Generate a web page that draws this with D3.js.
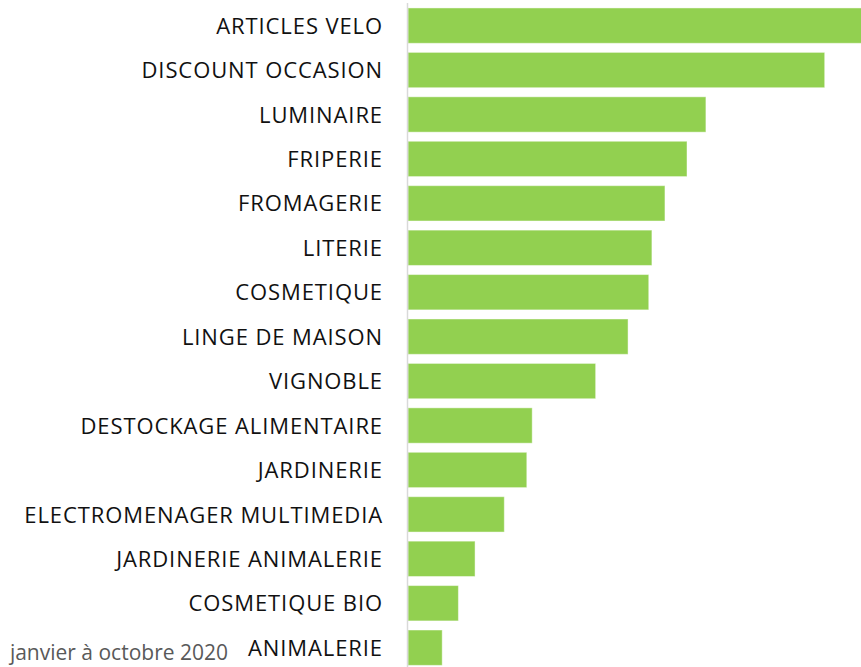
<!DOCTYPE html>
<html>
<head>
<meta charset="utf-8">
<script src="https://cdn.jsdelivr.net/npm/d3@7"></script>
<style>
  body { margin: 0; background: #fff; }
  .label { font-family: "Open Sans", sans-serif; font-size: 22px; letter-spacing: 0.9px; fill: #111; }
  .source { font-family: "Open Sans", sans-serif; font-size: 21px; fill: #595959; }
</style>
</head>
<body>
<svg class="chart"></svg>
<script>
// Catégories (de haut en bas)
var categories = [
  "ARTICLES VELO", "DISCOUNT OCCASION", "LUMINAIRE", "FRIPERIE", "FROMAGERIE",
  "LITERIE", "COSMETIQUE", "LINGE DE MAISON", "VIGNOBLE", "DESTOCKAGE ALIMENTAIRE",
  "JARDINERIE", "ELECTROMENAGER MULTIMEDIA", "JARDINERIE ANIMALERIE",
  "COSMETIQUE BIO", "ANIMALERIE"
];

// Valeurs estimées (la première barre sort du cadre)
var values = [104, 92.6, 66.2, 62, 57.1, 54.2, 53.5, 48.9, 41.7, 27.6, 26.4, 21.4, 14.9, 11.2, 7.6];

var sourceText = "janvier à octobre 2020";

var width = 861, height = 667;
var left = 408;

var svg = d3.select(".chart")
    .attr("width", width)
    .attr("height", height);

var data = categories.map(function(c, i) { return { name: c, value: values[i] }; });

// Échelle X
var x = d3.scaleLinear()
    .domain([0, 100])
    .range([left, left + 450]);

// Échelle Y
var y = d3.scaleBand()
    .domain(categories)
    .range([3.4, 669.9])
    .paddingInner(0.205)
    .paddingOuter(0.1025);

// Barres
svg.selectAll(".bar")
    .data(data)
  .enter().append("rect")
    .attr("class", "bar")
    .attr("x", x(0))
    .attr("y", function(d) { return y(d.name); })
    .attr("width", function(d) { return x(d.value) - x(0); })
    .attr("height", y.bandwidth())
    .attr("fill", "#92d050")
    .attr("stroke", "rgba(255,255,255,0.45)")
    .attr("stroke-width", 1);

// Axe vertical
var yAxis = svg.append("g")
    .attr("transform", "translate(" + (left - 0.5) + ",0)")
    .call(d3.axisLeft(y).tickSize(0).tickPadding(24.5));

yAxis.select(".domain")
    .attr("d", "M0,3V" + height)
    .attr("stroke", "#d9d9d9")
    .attr("stroke-width", 1.5);

yAxis.selectAll(".tick text")
    .attr("class", "label")
    .attr("font-family", null)
    .attr("font-size", null)
    .attr("dy", "0.37em");

// Période (en bas à gauche)
svg.append("text")
    .attr("class", "source")
    .attr("x", 228)
    .attr("y", 660)
    .attr("text-anchor", "end")
    .text(sourceText);
</script>
</body>
</html>
